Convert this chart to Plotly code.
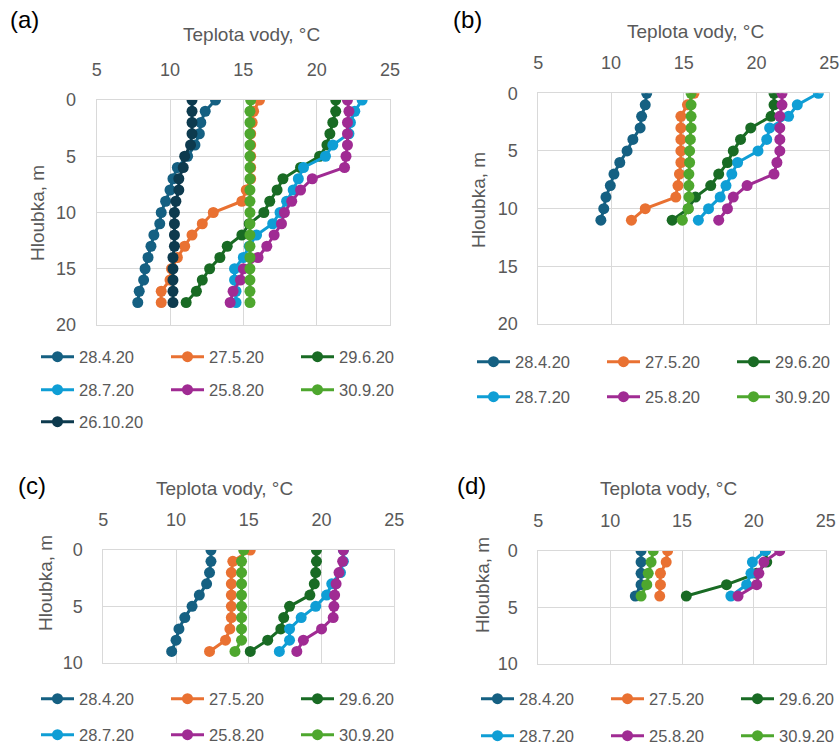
import plotly.graph_objects as go

# ---------------- data ----------------
dates = ["28.4.20", "27.5.20", "29.6.20", "28.7.20", "25.8.20", "30.9.20", "26.10.20"]

# panel (a)
depth_a = [0, 1, 2, 3, 4, 5, 6, 7, 8, 9, 10, 11, 12, 13, 14, 15, 16, 17, 18]
a_284 = [13.1, 12.4, 12.1, 12.0, 11.7, 11.2, 10.5, 10.2, 10.0, 9.7, 9.4, 9.3, 8.9, 8.7, 8.5, 8.3, 8.2, 7.9, 7.8]
a_275 = [16.1, 15.7, 15.6, 15.5, 15.5, 15.5, 15.5, 15.5, 15.2, 14.9, 12.95, 12.2, 11.5, 11.0, 10.5, 10.1, 10.0, 9.4, 9.4]
a_296 = [21.3, 21.3, 21.1, 20.9, 20.7, 20.2, 18.9, 17.7, 17.3, 16.8, 16.4, 15.4, 14.9, 13.9, 13.4, 12.7, 12.2, 11.8, 11.1]
a_287 = [23.1, 22.6, 22.3, 22.2, 21.1, 20.6, 19.1, 18.75, 18.4, 17.95, 17.5, 17.0, 15.9, 15.4, 15.0, 14.4, 14.4, 14.5, 14.5]
a_258 = [22.1, 22.2, 22.1, 22.1, 22.1, 22.0, 21.9, 19.7, 18.9, 18.3, 17.8, 17.6, 17.1, 16.6, 16.0, 15.0, 14.8, 14.3, 14.1]
a_309 = [15.5, 15.45, 15.45, 15.45, 15.45, 15.45, 15.45, 15.45, 15.45, 15.45, 15.45, 15.45, 15.45, 15.45, 15.45, 15.45, 15.45, 15.45, 15.45]
a_2610 = [11.5, 11.5, 11.5, 11.5, 11.4, 11.0, 10.9, 10.6, 10.6, 10.4, 10.3, 10.3, 10.3, 10.3, 10.2, 10.2, 10.2, 10.2, 10.2]

# panel (b)
depth_b = [0, 1, 2, 3, 4, 5, 6, 7, 8, 9, 10, 11]
b_284 = [12.45, 12.35, 12.1, 12.0, 11.5, 11.1, 10.6, 10.2, 9.95, 9.65, 9.5, 9.3]
b_275 = [15.7, 15.25, 14.8, 14.8, 14.8, 14.8, 14.8, 14.7, 14.6, 14.45, 12.35, 11.4]
b_296 = [21.2, 21.2, 21.0, 19.6, 18.9, 18.4, 18.0, 17.4, 16.85, 15.8, 15.3, 14.2]
b_287 = [24.25, 22.8, 22.2, 20.9, 20.7, 20.1, 18.7, 18.3, 17.9, 17.5, 16.7, 16.0]
b_258 = [21.75, 21.75, 21.6, 21.6, 21.6, 21.6, 21.4, 21.2, 19.35, 18.4, 18.0, 17.4]
b_309 = [15.5, 15.5, 15.5, 15.5, 15.45, 15.4, 15.4, 15.35, 15.35, 15.35, 15.3, 14.9]

# panel (c)
depth_c = [0, 1, 2, 3, 4, 5, 6, 7, 8, 9]
c_284 = [12.4, 12.4, 12.3, 12.1, 11.6, 11.1, 10.6, 10.2, 10.0, 9.7]
c_275 = [15.1, 13.9, 13.8, 13.8, 13.8, 13.8, 13.8, 13.7, 13.4, 12.3]
c_296 = [19.65, 19.65, 19.6, 19.5, 19.2, 17.8, 17.4, 17.2, 16.3, 15.1]
c_287 = [21.5, 21.5, 21.3, 20.7, 20.35, 19.6, 18.6, 17.8, 17.8, 17.1]
c_258 = [21.5, 21.45, 21.2, 21.0, 20.9, 20.85, 20.8, 20.0, 18.75, 18.3]
c_309 = [14.65, 14.5, 14.5, 14.5, 14.5, 14.5, 14.5, 14.5, 14.5, 14.05]

# panel (d)
depth_d = [0, 1, 2, 3, 4]
d_284 = [12.15, 12.15, 12.15, 12.15, 11.75]
d_275 = [14.0, 13.9, 13.5, 13.5, 13.45]
d_296 = [20.8, 20.9, 20.2, 18.1, 15.3]
d_287 = [20.8, 19.9, 19.8, 19.5, 18.4]
d_258 = [21.8, 20.7, 20.35, 20.2, 18.9]
d_309 = [13.0, 12.85, 12.65, 12.55, 12.15]

x_title = "Teplota vody, °C"
y_title = "Hloubka, m"
panel_labels = ["(a)", "(b)", "(c)", "(d)"]

# ---------------- style ----------------
colors = ["#156082", "#E97132", "#196B24", "#0F9ED5", "#A02B93", "#4EA72E", "#0D3A4E"]
W, H = 840, 744
FONT = "Liberation Sans"
GRAY = "#595959"
GRID = "#D9D9D9"

def px_x(p):
    return p / W

def px_y(p):
    return 1 - p / H

panels = [
    dict(depth=depth_a, series=[a_284, a_275, a_296, a_287, a_258, a_309, a_2610],
         xdom=(96.7, 390.0), ydom=(100.0, 325.0), yrange=[20, 0],
         legends=[(357, [0, 1, 2]), (390, [3, 4, 5]), (422, [6])], legx=36),
    dict(depth=depth_b, series=[b_284, b_275, b_296, b_287, b_258, b_309],
         xdom=(538.3, 829.3), ydom=(93.3, 324.0), yrange=[20, 0],
         legends=[(362, [0, 1, 2]), (397, [3, 4, 5])], legx=472),
    dict(depth=depth_c, series=[c_284, c_275, c_296, c_287, c_258, c_309],
         xdom=(103.3, 394.3), ydom=(550.0, 662.7), yrange=[10, 0],
         legends=[(699, [0, 1, 2]), (735, [3, 4, 5])], legx=36),
    dict(depth=depth_d, series=[d_284, d_275, d_296, d_287, d_258, d_309],
         xdom=(538.3, 825.7), ydom=(550.7, 664.0), yrange=[10, 0],
         legends=[(699, [0, 1, 2]), (736, [3, 4, 5])], legx=476),
]

title_pos = [(251, 35), (695, 32), (224, 488), (668, 488)]
ytitle_pos = [(37, 213), (478, 200), (45, 583), (482, 585)]
label_pos = [(24, 20), (467, 20), (32, 485), (471, 485)]

fig = go.Figure()
layout = dict(width=W, height=H, margin=dict(l=0, r=0, t=0, b=0, autoexpand=False),
              paper_bgcolor="white", plot_bgcolor="white", showlegend=True,
              font=dict(family=FONT, color=GRAY))
annotations = []
legend_idx = 0

for i, p in enumerate(panels):
    n = i + 1
    xa = "xaxis" if n == 1 else f"xaxis{n}"
    ya = "yaxis" if n == 1 else f"yaxis{n}"
    xr = "x" if n == 1 else f"x{n}"
    yr = "y" if n == 1 else f"y{n}"
    layout[xa] = dict(domain=[px_x(p["xdom"][0]), px_x(p["xdom"][1])], anchor=yr, side="top",
                      range=[5, 25], tick0=5, dtick=5, showgrid=True, gridcolor=GRID,
                      showline=True, mirror=True, linecolor=GRID, linewidth=1, zeroline=False,
                      automargin=False,
                      ticks="", tickfont=dict(size=18, color=GRAY), ticklabelstandoff=16)
    layout[ya] = dict(domain=[px_y(p["ydom"][1]), px_y(p["ydom"][0])], anchor=xr,
                      range=p["yrange"], tick0=0, dtick=5, showgrid=True, gridcolor=GRID,
                      showline=True, mirror=True, linecolor=GRID, linewidth=1, zeroline=False,
                      automargin=False,
                      ticks="", tickfont=dict(size=18, color=GRAY), ticklabelstandoff=16)
    trace_legend = {}
    for (ly, idxs) in p["legends"]:
        legend_idx += 1
        lname = "legend" if legend_idx == 1 else f"legend{legend_idx}"
        layout[lname] = dict(orientation="h", x=px_x(p["legx"]), xanchor="left",
                             y=px_y(ly), yanchor="middle", bgcolor="rgba(0,0,0,0)",
                             font=dict(size=16.5, color=GRAY, family=FONT),
                             itemwidth=33, entrywidth=82, entrywidthmode="pixels",
                             itemclick=False, itemdoubleclick=False, traceorder="normal")
        for k in idxs:
            trace_legend[k] = lname
    for k, s in enumerate(p["series"]):
        fig.add_trace(go.Scatter(
            x=s, y=p["depth"], mode="lines+markers", name=dates[k],
            line=dict(color=colors[k], width=3),
            marker=dict(color=colors[k], size=11),
            xaxis=xr, yaxis=yr, legend=trace_legend[k], showlegend=True,
        ))
    tx, ty = title_pos[i]
    annotations.append(dict(text=x_title, x=px_x(tx), y=px_y(ty), xref="paper", yref="paper",
                            showarrow=False, xanchor="center", yanchor="middle",
                            font=dict(size=19, color=GRAY, family=FONT)))
    yx, yy = ytitle_pos[i]
    annotations.append(dict(text=y_title, x=px_x(yx), y=px_y(yy), xref="paper", yref="paper",
                            showarrow=False, xanchor="center", yanchor="middle", textangle=-90,
                            font=dict(size=19, color=GRAY, family=FONT)))
    lx, lyy = label_pos[i]
    annotations.append(dict(text=panel_labels[i], x=px_x(lx), y=px_y(lyy), xref="paper", yref="paper",
                            showarrow=False, xanchor="center", yanchor="middle",
                            font=dict(size=24, color="#000000", family=FONT)))

layout["annotations"] = annotations
fig.update_layout(**layout)
fig.write_html("out.html",
               config={"displayModeBar": False},
               post_script="document.body.style.margin='0';document.body.style.overflow='hidden';")
